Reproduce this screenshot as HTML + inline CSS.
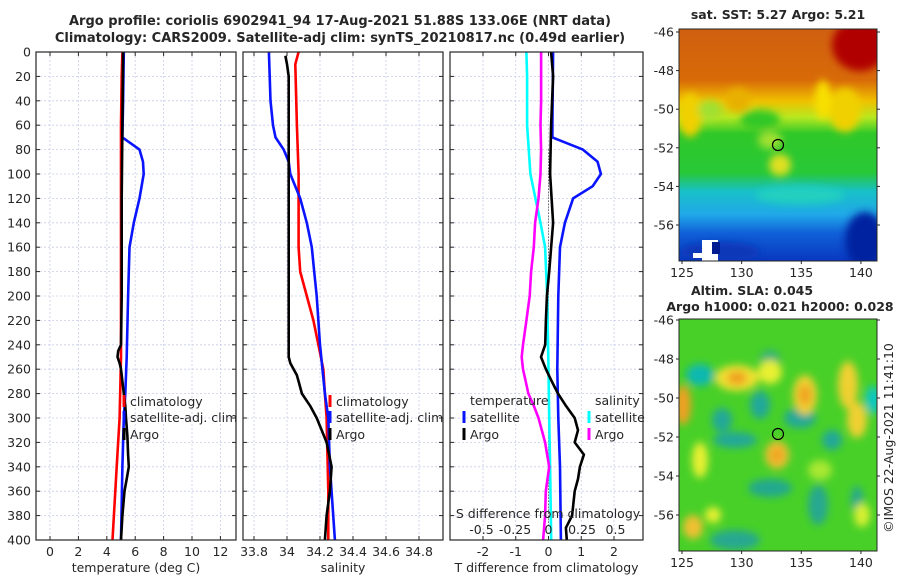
<!DOCTYPE html>
<html><head><meta charset="utf-8">
<style>
body{margin:0;background:#fff;width:900px;height:580px;overflow:hidden;font-family:"Liberation Sans","DejaVu Sans",sans-serif;}
svg{display:block}
text{font-family:"DejaVu Sans","Liberation Sans",sans-serif;fill:#262626}
</style></head>
<body>
<svg id="fig" width="900" height="580" viewBox="0 0 900 580" xmlns="http://www.w3.org/2000/svg">
<defs>
<filter id="blur8" x="-30%" y="-30%" width="160%" height="160%"><feGaussianBlur stdDeviation="6"/></filter>
<filter id="blur4" x="-30%" y="-30%" width="160%" height="160%"><feGaussianBlur stdDeviation="4"/></filter>
<clipPath id="clipTop"><rect x="679" y="29" width="198" height="232"/></clipPath>
<clipPath id="clipBot"><rect x="679" y="319" width="198" height="232"/></clipPath>
<linearGradient id="sstGrad" x1="0" y1="0" x2="0" y2="1">
<stop offset="0" stop-color="#d06010"/><stop offset="0.22" stop-color="#d86a08"/>
<stop offset="0.31" stop-color="#f0c000"/><stop offset="0.38" stop-color="#b8e820"/>
<stop offset="0.45" stop-color="#30c828"/><stop offset="0.62" stop-color="#28c838"/>
<stop offset="0.70" stop-color="#18c0c8"/><stop offset="0.80" stop-color="#20a8e8"/>
<stop offset="0.88" stop-color="#1060d8"/><stop offset="1" stop-color="#0838c0"/>
</linearGradient>
</defs>
<g id="titles">
<text x="340" y="25" text-anchor="middle" font-size="13" font-weight="bold">Argo profile: coriolis 6902941_94 17-Aug-2021 51.88S 133.06E (NRT data)</text>
<text x="340" y="42" text-anchor="middle" font-size="13" font-weight="bold">Climatology: CARS2009. Satellite-adj clim: synTS_20210817.nc (0.49d earlier)</text>
</g>
<g id="p1"></g><g id="p2"></g><g id="p3"></g>
<g id="maps">
<text x="778" y="19" text-anchor="middle" font-size="12.5" font-weight="bold">sat. SST: 5.27 Argo: 5.21</text>
<g clip-path="url(#clipTop)">
<rect x="679" y="29" width="198" height="232" fill="url(#sstGrad)"/>
<g filter="url(#blur4)">
<ellipse cx="860" cy="45" rx="28" ry="26" fill="#b00000"/>
<ellipse cx="690" cy="115" rx="12" ry="22" fill="#f0d000"/>
<ellipse cx="845" cy="110" rx="16" ry="22" fill="#f0d000"/>
<ellipse cx="823" cy="100" rx="8" ry="20" fill="#f8e000"/>
<ellipse cx="738" cy="100" rx="12" ry="12" fill="#e8b000"/>
<ellipse cx="780" cy="165" rx="11" ry="11" fill="#e0e020"/>
<ellipse cx="770" cy="140" rx="12" ry="9" fill="#a0e030"/>
<ellipse cx="865" cy="240" rx="20" ry="28" fill="#0020a0"/>
<ellipse cx="720" cy="252" rx="40" ry="10" fill="#0838b8"/>
<ellipse cx="800" cy="195" rx="45" ry="9" fill="#20d0c0"/>
<ellipse cx="760" cy="120" rx="20" ry="10" fill="#30c828"/>
<ellipse cx="710" cy="110" rx="12" ry="10" fill="#a0e030"/>
</g>
<rect x="702" y="240" width="16" height="21" fill="#fff"/>
<rect x="693" y="253" width="12" height="5" fill="#fff"/>
<rect x="712" y="242" width="8" height="12" fill="#001c90"/>
</g>
<rect x="679" y="29" width="198" height="232" fill="none" stroke="#262626" stroke-width="1"/>
<circle cx="778" cy="145" r="5.5" fill="none" stroke="#000" stroke-width="1.2"/>
<text x="752" y="295" text-anchor="middle" font-size="12.5" font-weight="bold">Altim. SLA: 0.045</text>
<text x="780" y="311" text-anchor="middle" font-size="12.5" font-weight="bold">Argo h1000: 0.021 h2000: 0.028</text>
<g clip-path="url(#clipBot)">
<rect x="679" y="319" width="198" height="232" fill="#48d028"/>
<g filter="url(#blur4)">
<ellipse cx="700" cy="375" rx="14" ry="11" fill="#10b8b0"/>
<ellipse cx="722" cy="420" rx="10" ry="12" fill="#20a898"/>
<ellipse cx="735" cy="440" rx="22" ry="8" fill="#20a898"/>
<ellipse cx="770" cy="360" rx="10" ry="10" fill="#30b080"/>
<ellipse cx="760" cy="405" rx="10" ry="14" fill="#20a898"/>
<ellipse cx="800" cy="418" rx="16" ry="10" fill="#20a898"/>
<ellipse cx="832" cy="440" rx="10" ry="10" fill="#20a898"/>
<ellipse cx="873" cy="400" rx="8" ry="14" fill="#10c8c0"/>
<ellipse cx="770" cy="488" rx="22" ry="9" fill="#20a890"/>
<ellipse cx="818" cy="505" rx="10" ry="20" fill="#28a890"/>
<ellipse cx="735" cy="540" rx="25" ry="10" fill="#28a890"/>
<ellipse cx="857" cy="500" rx="6" ry="14" fill="#28a890"/>
<ellipse cx="737" cy="378" rx="22" ry="13" fill="#f0e030"/>
<ellipse cx="737" cy="378" rx="10" ry="7" fill="#f0a020"/>
<ellipse cx="770" cy="372" rx="12" ry="12" fill="#e8f030"/>
<ellipse cx="805" cy="395" rx="12" ry="20" fill="#f0d030"/>
<ellipse cx="805" cy="395" rx="6" ry="10" fill="#f0a020"/>
<ellipse cx="848" cy="385" rx="10" ry="24" fill="#f0d030"/>
<ellipse cx="857" cy="420" rx="10" ry="18" fill="#f0d030"/>
<ellipse cx="683" cy="405" rx="8" ry="20" fill="#f0a020"/>
<ellipse cx="777" cy="455" rx="12" ry="14" fill="#f0c030"/>
<ellipse cx="777" cy="455" rx="6" ry="7" fill="#f0a020"/>
<ellipse cx="700" cy="460" rx="8" ry="18" fill="#e8f030"/>
<ellipse cx="693" cy="527" rx="10" ry="12" fill="#f0c030"/>
<ellipse cx="713" cy="515" rx="8" ry="8" fill="#e8f030"/>
<ellipse cx="862" cy="515" rx="8" ry="12" fill="#d8f030"/>
<ellipse cx="820" cy="470" rx="12" ry="10" fill="#a8e830"/>
</g>
</g>
<rect x="679" y="319" width="198" height="232" fill="none" stroke="#262626" stroke-width="1"/>
<circle cx="778" cy="434" r="5.5" fill="none" stroke="#000" stroke-width="1.2"/>
<text transform="translate(893,438) rotate(-90)" text-anchor="middle" font-size="12.5">©IMOS 22-Aug-2021 11:41:10</text>
</g>
</svg>
<script>
// ---------- data ----------
const depthTicks=[0,20,40,60,80,100,120,140,160,180,200,220,240,260,280,300,320,340,360,380,400];
// panel 1: temperature
const tempTicks=[0,2,4,6,8,10,12];
const climTDepth=[0,20,60,100,160,200,250,300,340,400];
const climTVal=[5.1,5.05,5.0,5.0,5.0,5.0,5.0,4.9,4.7,4.4];
const satTDepth=[0,40,70,80,90,100,120,140,160,200,250,280,300,340,400];
const satTVal=[5.2,5.15,5.1,6.3,6.55,6.6,6.3,5.9,5.6,5.5,5.4,5.3,5.2,5.1,5.0];
const argoTDepth=[0,60,120,200,240,245,250,255,260,270,280,290,300,315,330,340,350,360,380,400];
const argoTVal=[5.15,5.1,5.05,5.05,5.0,4.8,4.75,4.9,5.0,5.1,5.2,5.3,5.35,5.45,5.5,5.55,5.4,5.25,5.1,5.0];
// panel 2: salinity
const salTicks=[33.8,34,34.2,34.4,34.6,34.8];
const climSDepth=[0,10,60,100,160,180,200,220,240,260,280,300,360,400];
const climSVal=[34.07,34.05,34.06,34.07,34.07,34.08,34.12,34.16,34.19,34.22,34.23,34.24,34.25,34.25];
const satSDepth=[0,40,60,70,80,90,100,120,140,160,180,200,240,280,300,340,400];
const satSVal=[33.89,33.90,33.915,33.93,33.98,34.01,34.02,34.08,34.12,34.15,34.165,34.18,34.2,34.23,34.25,34.26,34.29];
const argoSDepth=[3,10,20,100,200,250,255,265,270,280,290,300,310,320,340,360,380,400];
const argoSVal=[33.99,34.0,34.01,34.01,34.01,34.01,34.02,34.06,34.07,34.09,34.14,34.18,34.21,34.24,34.27,34.26,34.24,34.23];
// panel 3: differences
const dTTicks=[-2,-1,0,1,2];
const dSTicks=[-0.5,-0.25,0,0.25,0.5];
const dSTickLabels=["-0.5","-0.25","0","0.25","0.5"];
const satDTDepth=[0,60,70,80,90,100,110,120,140,160,200,260,300,340,400];
const satDTVal=[0.14,0.12,0.12,1.05,1.5,1.6,1.35,0.75,0.5,0.35,0.3,0.27,0.3,0.35,0.38];
const argoDTDepth=[0,20,60,100,140,180,200,220,240,250,260,270,280,290,300,310,320,330,340,350,360,380,390,400];
const argoDTVal=[0.08,0.14,0.08,0.05,0.14,0.02,-0.05,-0.08,-0.1,-0.23,-0.08,0.1,0.29,0.53,0.8,0.9,0.8,1.08,0.96,0.9,0.8,0.72,0.53,0.56];
const satDSDepth=[0,20,60,100,140,160,200,260,300,340,400];
const satDSVal=[-0.165,-0.16,-0.16,-0.135,-0.06,-0.025,-0.01,0,0.005,0.012,0.02];
const argoDSDepth=[0,40,60,80,100,120,140,160,180,200,220,240,250,260,270,280,290,300,320,340,360,380,400];
const argoDSVal=[-0.055,-0.055,-0.06,-0.055,-0.06,-0.075,-0.1,-0.11,-0.13,-0.14,-0.165,-0.19,-0.2,-0.19,-0.17,-0.15,-0.11,-0.075,-0.025,0.005,-0.02,-0.025,-0.04];

// ---------- axes ----------
const NS="http://www.w3.org/2000/svg";
const Y0=52,Y1=540;
const yS=d=>Y0+(d/400)*(Y1-Y0);
const x1=v=>50+v*14.2;            // temperature
const x2=v=>254+(v-33.8)*165;     // salinity
const x3=v=>548.5+v*32.75;        // T diff
const x3s=v=>548.5+v*134;         // S diff
function mk(tag,attrs,parent){const e=document.createElementNS(NS,tag);for(const k in attrs)e.setAttribute(k,attrs[k]);parent.appendChild(e);return e;}
function panel(g,x0,x1p,ticks,fx,labels,xlabel,showY){
  const fr=mk('rect',{x:x0,y:Y0,width:x1p-x0,height:Y1-Y0,fill:'#fff'},g);
  
  
  ticks.forEach((t,i)=>{const x=fx(t);
    const gl=mk('line',{x1:x,x2:x,y1:Y0,y2:Y1,stroke:'#c8cce8','stroke-width':0.8,'stroke-dasharray':'2,2'},g);
    
    
    mk('line',{x1:x,x2:x,y1:Y1,y2:Y1-4,stroke:'#262626'},g);
    mk('line',{x1:x,x2:x,y1:Y0,y2:Y0+4,stroke:'#262626'},g);
    const tl=mk('text',{x:x,y:Y1+16,'text-anchor':'middle','font-size':12.5},g);tl.textContent=labels?labels[i]:String(t);
    
    
  });
  depthTicks.forEach(d=>{const y=yS(d);
    const gl=mk('line',{x1:x0,x2:x1p,y1:y,y2:y,stroke:'#c8cce8','stroke-width':0.8,'stroke-dasharray':'2,2'},g);
    
    
    mk('line',{x1:x0,x2:x0+4,y1:y,y2:y,stroke:'#262626'},g);
    mk('line',{x1:x1p,x2:x1p-4,y1:y,y2:y,stroke:'#262626'},g);
    if(showY){const tl=mk('text',{x:x0-5,y:y+4.5,'text-anchor':'end','font-size':12.5},g);tl.textContent=d;
      
      }
  });
  const xl=mk('text',{x:(x0+x1p)/2,y:572,'text-anchor':'middle','font-size':12.5},g);xl.textContent=xlabel;
  
  
}
function frame(g,x0,x1p){mk('rect',{x:x0,y:Y0,width:x1p-x0,height:Y1-Y0,fill:'none',stroke:'#262626','stroke-width':1.2},g);}
function line(g,ds,vs,fx,color,name,w){
  const pts=ds.map((d,i)=>fx(vs[i]).toFixed(1)+','+yS(d).toFixed(1)).join(' ');
  const p=mk('polyline',{points:pts,fill:'none',stroke:color,'stroke-width':w||2.6,'stroke-linejoin':'round'},g);
  
  
}
function legend(g,x,y,color,label,name){
  const m=mk('rect',{x:x-1.5,y:y-11,width:3,height:12,fill:color},g);
  
  
  const t=mk('text',{x:x+6,y:y,'font-size':12.5},g);t.textContent=label;
  
  
}
// panel 1
const g1=document.getElementById('p1');
panel(g1,36,236,tempTicks,x1,null,'temperature (deg C)',true);
line(g1,climTDepth,climTVal,x1,'#ff0000','climatology-temperature-line');
line(g1,satTDepth,satTVal,x1,'#0a14ff','satellite-temperature-line');
line(g1,argoTDepth,argoTVal,x1,'#000','argo-temperature-line');
frame(g1,36,236);
legend(g1,124,406,'#ff0000','climatology','legend-climatology');
legend(g1,124,422,'#0a14ff','satellite-adj. clim','legend-satellite-adj');
legend(g1,124,439,'#000','Argo','legend-argo');
// panel 2
const g2=document.getElementById('p2');
panel(g2,243,443,salTicks,x2,null,'salinity',false);
line(g2,climSDepth,climSVal,x2,'#ff0000','climatology-salinity-line');
line(g2,satSDepth,satSVal,x2,'#0a14ff','satellite-salinity-line');
line(g2,argoSDepth,argoSVal,x2,'#000','argo-salinity-line');
frame(g2,243,443);
// panel 3
const g3=document.getElementById('p3');
panel(g3,450,643,dTTicks,x3,null,'T difference from climatology',false);
const zl=mk('line',{x1:x3(0),x2:x3(0),y1:yS(80),y2:yS(390),stroke:'#333','stroke-width':1,'stroke-dasharray':'1,2'},g3);


line(g3,satDSDepth,satDSVal,x3s,'#00ffff','satellite-salinity-diff-line');
line(g3,argoDSDepth,argoDSVal,x3s,'#ff00ff','argo-salinity-diff-line');
line(g3,satDTDepth,satDTVal,x3,'#0a14ff','satellite-temperature-diff-line');
line(g3,argoDTDepth,argoDTVal,x3,'#000','argo-temperature-diff-line');
frame(g3,450,643);
dSTicks.forEach((t,i)=>{const tl=mk('text',{x:x3s(t),y:534,'text-anchor':'middle','font-size':12.5},g3);tl.textContent=dSTickLabels[i];
  
  });
const st=mk('text',{x:548,y:518,'text-anchor':'middle','font-size':12.5},g3);st.textContent='S difference from climatology';


const lt=mk('text',{x:470,y:405,'font-size':12.5},g3);lt.textContent='temperature';


const ls=mk('text',{x:595,y:405,'font-size':12.5},g3);ls.textContent='salinity';


legend(g3,464,422,'#0a14ff','satellite','legend-temp-satellite');
legend(g3,464,439,'#000','Argo','legend-temp-argo');
legend(g3,589,422,'#00ffff','satellite','legend-sal-satellite');
legend(g3,589,439,'#ff00ff','Argo','legend-sal-argo');
// panel 2 legend (drawn last so it overlaps panel 3 edge)
legend(g2,330,406,'#ff0000','climatology','legend2-climatology');
legend(g2,330,422,'#0a14ff','satellite-adj. clim','legend2-satellite-adj');
legend(g2,330,439,'#000','Argo','legend2-argo');
// map axes
const maps=document.getElementById('maps');
const lonTicks=[125,130,135,140];
const latTicks=[-46,-48,-50,-52,-54,-56];
function mapAxes(top,bottom,latTop,latStep){
  lonTicks.forEach(l=>{const x=682+(l-125)*11.93;
    mk('line',{x1:x,x2:x,y1:bottom,y2:bottom+3,stroke:'#262626'},maps);
    const t=mk('text',{x:x,y:bottom+16,'text-anchor':'middle','font-size':12.5},maps);t.textContent=l;
    
    });
  latTicks.forEach(l=>{const y=latTop+(-46-l)*latStep;
    mk('line',{x1:676,x2:679,y1:y,y2:y,stroke:'#262626'},maps);
    mk('line',{x1:877,x2:880,y1:y,y2:y,stroke:'#262626'},maps);
    const t=mk('text',{x:674,y:y+4.5,'text-anchor':'end','font-size':12.5},maps);t.textContent=l;
    
    });
}
mapAxes(29,261,32,19.3);
mapAxes(319,551,320,19.5);
</script>
</body></html>
